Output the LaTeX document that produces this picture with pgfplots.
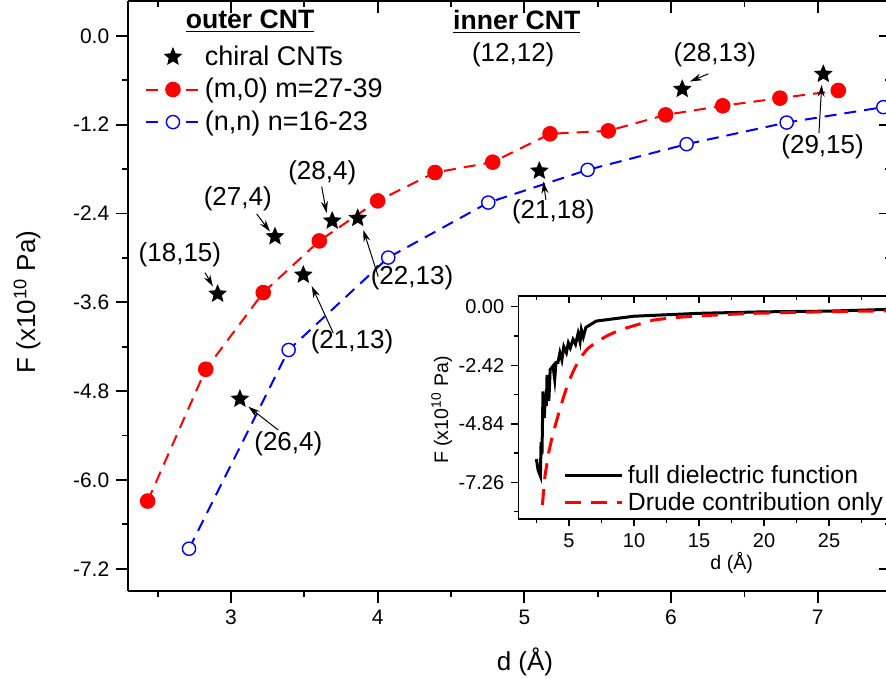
\documentclass[border=0pt]{standalone}
\usepackage{fontspec}
\setmainfont{Liberation Sans}
\usepackage{pgfplots}
\pgfplotsset{compat=1.18}
\usetikzlibrary{arrows.meta}
\pgfdeclareplotmark{fstar}{%
 \pgfpathmoveto{\pgfpointpolar{90}{\pgfplotmarksize}}%
 \pgfpathlineto{\pgfpointpolar{126}{0.45\pgfplotmarksize}}%
 \pgfpathlineto{\pgfpointpolar{162}{\pgfplotmarksize}}%
 \pgfpathlineto{\pgfpointpolar{198}{0.45\pgfplotmarksize}}%
 \pgfpathlineto{\pgfpointpolar{234}{\pgfplotmarksize}}%
 \pgfpathlineto{\pgfpointpolar{270}{0.45\pgfplotmarksize}}%
 \pgfpathlineto{\pgfpointpolar{306}{\pgfplotmarksize}}%
 \pgfpathlineto{\pgfpointpolar{342}{0.45\pgfplotmarksize}}%
 \pgfpathlineto{\pgfpointpolar{18}{\pgfplotmarksize}}%
 \pgfpathlineto{\pgfpointpolar{54}{0.45\pgfplotmarksize}}%
 \pgfpathclose\pgfusepathqfillstroke}
\pgfplotsset{
 redser/.style={red, line width=1pt, dash pattern=on 6pt off 4pt, mark=*, mark size=3.4pt, mark options={solid, fill=red}},
 blueser/.style={blue, line width=1pt, dash pattern=on 6pt off 4pt, mark=*, mark size=3.3pt, mark options={solid, fill=white, draw=blue, line width=0.7pt}},
 starser/.style={black, only marks, mark=fstar, mark size=4.4pt},
}
\newcommand{\ann}{\fontsize{13}{15}\selectfont}
\tikzset{arr/.style={-{Stealth[length=6pt,width=3.5pt]}, line width=0.5pt, black}}
\begin{document}
\begin{tikzpicture}
\path[use as bounding box, clip] (-64.15pt,-43.5pt) rectangle ++(443pt,339pt);
% main axis
\begin{axis}[
 at={(0pt,0pt)}, anchor=south west, scale only axis,
 width=381.4pt, height=295pt,
 xmin=2.3, xmax=7.5, ymin=-7.5, ymax=0.47,
 xtick={3,4,5,6,7}, minor xtick={2.5,3.5,4.5,5.5,6.5,7.5},
 ytick={-7.2,-6,-4.8,-3.6,-2.4,-1.2,0},
 yticklabels={-7.2,-6.0,-4.8,-3.6,-2.4,-1.2,0.0},
 minor ytick={-6.6,-5.4,-4.2,-3.0,-1.8,-0.6},
 xticklabels={3,4,5,6,7},
 xtick pos=left, ytick pos=left, tick align=outside,
 major tick length=6pt, minor tick length=3pt,
 tick style={line width=0.9pt, black},
 axis x line*=bottom, axis y line*=left,
 axis line style={line width=1pt, -},
 tick label style={font=\fontsize{10.5}{12}\selectfont},
 xlabel={d (Å)}, ylabel={F (x10\textsuperscript{10} Pa)},
 label style={font=\fontsize{13}{15}\selectfont},
 xlabel style={at={(axis description cs:0.52,-0.12)}, anchor=center},
 ylabel style={at={(axis description cs:-0.1328,0.49)}, anchor=center},
 legend cell align=left,
 legend style={at={(axis cs:2.37,-0.02)}, anchor=north west, draw=none, fill=none,
   font=\fontsize{13.5}{16}\selectfont, row sep=1pt},
 legend image code/.code={\draw[mark repeat=2,mark phase=2] plot coordinates {(0pt,0pt) (13.5pt,0pt) (27pt,0pt)};},
 clip=false,
]
\addlegendimage{starser}
\addlegendentry{chiral CNTs}
\addlegendimage{redser}
\addlegendentry{(m,0) m=27-39}
\addlegendimage{blueser}
\addlegendentry{(n,n) n=16-23}
\addplot[redser, forget plot] coordinates {
(2.432,-6.285) (2.828,-4.505) (3.220,-3.469) (3.602,-2.771) (4.000,-2.230)
(4.391,-1.847) (4.784,-1.707) (5.175,-1.324) (5.572,-1.284) (5.963,-1.068)
(6.352,-0.946) (6.742,-0.842) (7.140,-0.739)};
\addplot[blueser, forget plot] coordinates {
(2.714,-6.929) (3.393,-4.244) (4.072,-2.996) (4.754,-2.253) (5.431,-1.811)
(6.106,-1.464) (6.788,-1.172) (7.447,-0.964)};
\addplot[starser, forget plot] coordinates {
(2.909,-3.487) (3.300,-2.712) (3.690,-2.500) (3.864,-2.464) (3.493,-3.230)
(3.061,-4.906) (5.102,-1.825) (6.076,-0.721) (7.038,-0.518)};
% annotations
\node[font=\bfseries\fontsize{13.3}{15}\selectfont] at (axis cs:3.130,0.193) {\underline{outer CNT}};
\node[font=\bfseries\fontsize{13.3}{15}\selectfont] at (axis cs:4.948,0.193) {\underline{inner CNT}};
\node[font=\ann] at (axis cs:4.924,-0.257) {(12,12)};
\node[font=\ann] at (axis cs:2.652,-2.960) {(18,15)};
\draw[arr] (axis cs:2.823,-3.199) -- (axis cs:2.877,-3.388);
\node[font=\ann] at (axis cs:3.046,-2.207) {(27,4)};
\draw[arr] (axis cs:3.175,-2.406) -- (axis cs:3.266,-2.645);
\node[font=\ann] at (axis cs:3.622,-1.856) {(28,4)};
\draw[arr] (axis cs:3.618,-2.037) -- (axis cs:3.652,-2.396);
\node[font=\ann] at (axis cs:4.234,-3.271) {(22,13)};
\draw[arr] (axis cs:4.004,-3.253) -- (axis cs:3.902,-2.622);
\node[font=\ann] at (axis cs:3.825,-4.136) {(21,13)};
\draw[arr] (axis cs:3.697,-4.014) -- (axis cs:3.550,-3.379);
\node[font=\ann] at (axis cs:3.391,-5.505) {(26,4)};
\draw[arr] (axis cs:3.322,-5.325) -- (axis cs:3.118,-5.010);
\node[font=\ann] at (axis cs:5.197,-2.375) {(21,18)};
\draw[arr] (axis cs:5.147,-2.216) -- (axis cs:5.129,-1.969);
\node[font=\ann] at (axis cs:6.299,-0.257) {(28,13)};
\draw[arr] (axis cs:6.254,-0.514) -- (axis cs:6.129,-0.618);
\node[font=\ann] at (axis cs:7.033,-1.496) {(29,15)};
\draw[arr] (axis cs:7.008,-1.315) -- (axis cs:7.027,-0.662);
\end{axis}
% top/right inward ticks of main axis
\begin{axis}[
 at={(0pt,0pt)}, anchor=south west, scale only axis,
 width=381.4pt, height=295pt,
 xmin=2.3, xmax=7.5, ymin=-7.5, ymax=0.47,
 xtick={3,4,5,6,7}, minor xtick={2.5,3.5,4.5,5.5,6.5,7.5},
 ytick={-7.2,-6,-4.8,-3.6,-2.4,-1.2,0},
 minor ytick={-6.6,-5.4,-4.2,-3.0,-1.8,-0.6},
 xticklabels={}, yticklabels={},
 axis x line*=top, axis y line*=right,
 tick align=inside,
 major tick length=6pt, minor tick length=3pt,
 tick style={line width=0.9pt, black},
 axis line style={line width=1pt, -},
]
\end{axis}
% inset
\begin{axis}[
 at={(195pt,35.85pt)}, anchor=south west, scale only axis,
 width=187.85pt, height=111.7pt,
 xmin=1.1, xmax=30, ymin=-8.79, ymax=0.45,
 axis background/.style={fill=white},
 xtick={5,10,15,20,25,30}, minor xtick={2.5,7.5,12.5,17.5,22.5,27.5},
 ytick={-7.26,-4.84,-2.42,0}, yticklabels={-7.26,-4.84,-2.42,0.00},
 xticklabels={5,10,15,20,25,{}},
 minor ytick={-8.47,-6.05,-3.63,-1.21},
 xtick pos=left, ytick pos=left, tick align=outside,
 major tick length=3.5pt, minor tick length=2pt,
 tick style={line width=0.7pt, black},
 axis line style={line width=0.8pt},
 tick label style={font=\fontsize{10}{12}\selectfont},
 xlabel={d (Å)}, ylabel={F (x10\textsuperscript{10} Pa)},
 label style={font=\fontsize{9.8}{12}\selectfont},
 xlabel style={at={(axis description cs:0.568,-0.197)}, anchor=center},
 ylabel style={at={(axis description cs:-0.204,0.489)}, anchor=center},
 legend cell align=left,
 legend style={at={(axis cs:4.1,-6.2)}, anchor=north west, draw=none, fill=none,
   font=\fontsize{12.4}{14}\selectfont, row sep=-1pt},
 legend image code/.code={\draw plot coordinates {(0pt,0pt) (28.6pt,0pt)};},
 clip=false,
]
\addplot[black, line width=1.5pt] coordinates {
(2.49,-6.30) (2.62,-6.75) (2.80,-7.00) (2.85,-5.60) (2.92,-6.10) (3.00,-3.50)
(3.10,-4.60) (3.18,-3.60) (3.26,-4.10) (3.31,-2.83) (3.45,-3.90) (3.55,-2.60)
(3.77,-2.45) (3.90,-3.00) (4.00,-2.30) (4.15,-2.30) (4.30,-1.90) (4.45,-2.20)
(4.60,-1.65) (4.80,-1.90) (4.95,-1.50) (5.10,-1.70) (5.31,-1.35) (5.50,-1.55)
(5.70,-1.10) (5.85,-1.45) (5.95,-0.95) (6.10,-1.25) (6.30,-0.85) (7.10,-0.59)
(10.0,-0.39) (15.0,-0.27) (19.9,-0.21) (24.9,-0.18) (29.4,-0.11) (30,-0.10)};
\addlegendentry{full dielectric function}
\addplot[red, line width=1.5pt, dash pattern=on 8pt off 5pt] coordinates {
(2.95,-8.20) (3.05,-7.60) (3.15,-7.00) (3.26,-6.62) (3.45,-6.00) (3.65,-5.51)
(4.00,-4.80) (4.28,-4.27) (4.60,-3.70) (4.92,-3.17) (5.30,-2.70) (5.82,-2.14)
(6.40,-1.75) (7.10,-1.45) (8.00,-1.18) (8.90,-0.96) (10.0,-0.78) (11.46,-0.55)
(13.0,-0.45) (14.8,-0.385) (17.0,-0.32) (19.15,-0.27) (24.3,-0.21) (29.4,-0.165) (30,-0.16)};
\addlegendentry{Drude contribution only}
\end{axis}
\begin{axis}[
 at={(195pt,35.85pt)}, anchor=south west, scale only axis,
 width=187.85pt, height=111.7pt,
 xmin=1.1, xmax=30, ymin=-8.79, ymax=0.45,
 xtick={5,10,15,20,25,30}, minor xtick={2.5,7.5,12.5,17.5,22.5,27.5},
 ytick={-7.26,-4.84,-2.42,0}, minor ytick={-8.47,-6.05,-3.63,-1.21},
 xticklabels={}, yticklabels={},
 xtick pos=right, ytick pos=right, tick align=inside,
 major tick length=3.5pt, minor tick length=2pt,
 tick style={line width=0.7pt, black},
 axis line style={line width=0.8pt},
]
\end{axis}
\end{tikzpicture}
\end{document}
